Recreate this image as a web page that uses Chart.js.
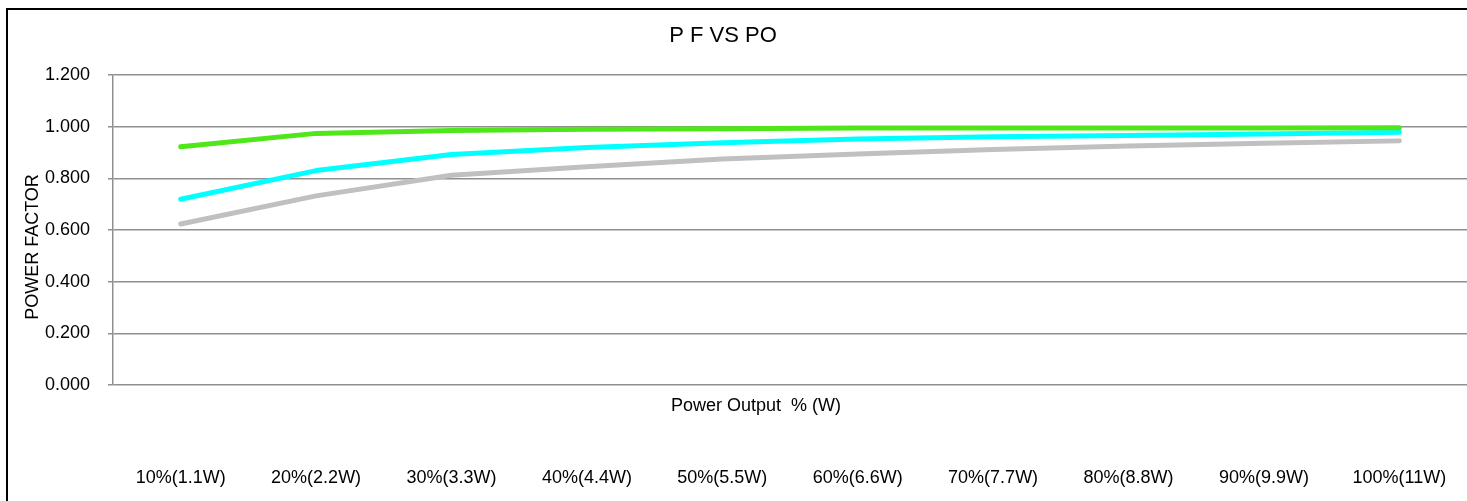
<!DOCTYPE html>
<html>
<head>
<meta charset="utf-8">
<script src="https://cdn.jsdelivr.net/npm/chart.js@4"></script>
<style>
  html, body { margin: 0; padding: 0; background: #fff; }
  #wrap { width: 1467px; height: 501px; position: relative; }
</style>
</head>
<body>
<div id="wrap"><canvas id="c" width="1467" height="501"></canvas></div>
<script>
const categories = ['10%(1.1W)', '20%(2.2W)', '30%(3.3W)', '40%(4.4W)', '50%(5.5W)', '60%(6.6W)', '70%(7.7W)', '80%(8.8W)', '90%(9.9W)', '100%(11W)'];
const greenSeries = [0.922, 0.974, 0.985, 0.990, 0.992, 0.995, 0.995, 0.995, 0.995, 0.996];
const cyanSeries  = [0.719, 0.830, 0.892, 0.919, 0.938, 0.952, 0.961, 0.966, 0.972, 0.978];
const graySeries  = [0.623, 0.732, 0.812, 0.845, 0.875, 0.894, 0.912, 0.925, 0.936, 0.945];
const yTicks = [0, 0.2, 0.4, 0.6, 0.8, 1.0, 1.2];

const chartTitle = 'P F VS PO';
const xTitle = 'Power Output  % (W)';
const yTitle = 'POWER FACTOR';

const FONT = '"Liberation Sans", Arial, sans-serif';

const annotations = {
  id: 'annotations',
  afterDraw(chart) {
    const ctx = chart.ctx;
    ctx.save();
    // frame (left and top edges visible)
    ctx.strokeStyle = '#000';
    ctx.lineWidth = 2;
    ctx.beginPath();
    ctx.moveTo(7, 501);
    ctx.lineTo(7, 9);
    ctx.lineTo(1467, 9);
    ctx.stroke();
    // chart title
    ctx.fillStyle = '#000';
    ctx.textAlign = 'center';
    ctx.textBaseline = 'middle';
    ctx.font = '22px ' + FONT;
    ctx.fillText(chartTitle, 723, 36);
    // x title
    ctx.font = '18px ' + FONT;
    ctx.fillText(xTitle, 756, 406);
    // y title
    ctx.translate(33, 247);
    ctx.rotate(-Math.PI / 2);
    ctx.fillText(yTitle, 0, 0);
    ctx.restore();
  }
};

new Chart(document.getElementById('c'), {
  type: 'line',
  data: {
    labels: categories,
    datasets: [
      { data: greenSeries, borderColor: '#4FE61A', backgroundColor: '#4FE61A' },
      { data: cyanSeries, borderColor: '#00FFFF', backgroundColor: '#00FFFF' },
      { data: graySeries, borderColor: '#C0C0C0', backgroundColor: '#C0C0C0' }
    ]
  },
  options: {
    responsive: false,
    animation: false,
    layout: { padding: { left: 0, right: 0, top: 75, bottom: 0 } },
    elements: {
      line: { borderWidth: 5, borderCapStyle: 'round', borderJoinStyle: 'round', tension: 0, fill: false },
      point: { radius: 0, hoverRadius: 0 }
    },
    plugins: {
      legend: { display: false },
      title: { display: false },
      tooltip: { enabled: false }
    },
    scales: {
      x: {
        type: 'category',
        offset: true,
        grid: { display: false, drawTicks: false },
        border: { display: false },
        ticks: { color: '#000', font: { family: FONT, size: 18 }, padding: 82, maxRotation: 0, autoSkip: false },
        afterFit(scale) { scale.height = 116; scale.paddingLeft = 0; scale.paddingRight = 0; }
      },
      y: {
        min: 0,
        max: 1.2,
        afterBuildTicks(scale) { scale.ticks = yTicks.map(v => ({ value: v })); },
        grid: { color: '#8f8f8f', lineWidth: 1.5, drawTicks: true, tickLength: 5, tickColor: '#8f8f8f' },
        border: { display: true, color: '#8f8f8f', width: 1.5 },
        ticks: {
          color: '#000',
          font: { family: FONT, size: 18 },
          padding: 18,
          callback: v => Number(v).toFixed(3)
        },
        afterFit(scale) { scale.width = 113; scale.paddingTop = 0; scale.paddingBottom = 0; }
      }
    }
  },
  plugins: [annotations]
});
</script>
</body>
</html>
